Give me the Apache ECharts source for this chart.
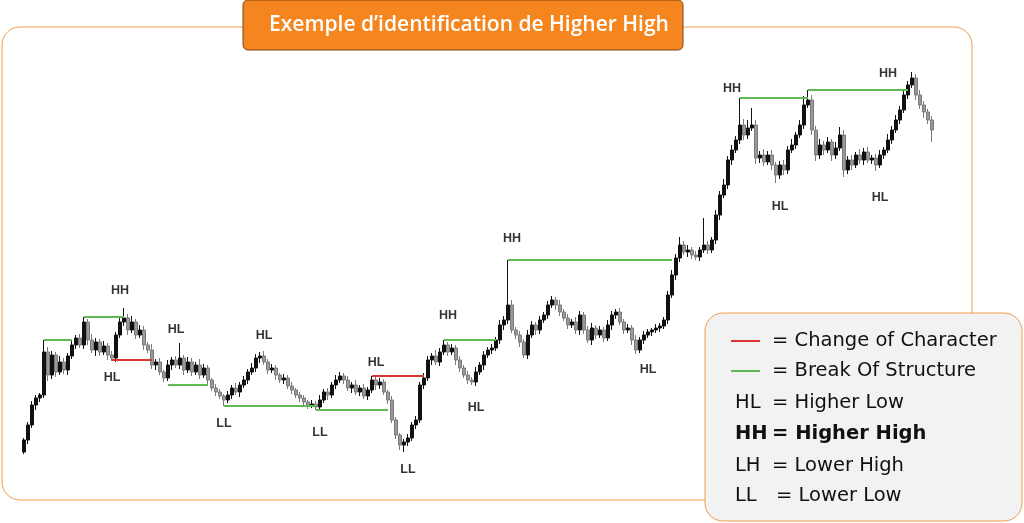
<!DOCTYPE html>
<html><head><meta charset="utf-8">
<script src="https://cdn.jsdelivr.net/npm/echarts@6/dist/echarts.min.js"></script>
<style>html,body{margin:0;padding:0;background:#fff}#c{width:1024px;height:523px}</style>
</head><body><div id="c"></div>
<script>
// ---- data (price units, arbitrary) ----
const startOpen = 48;
const closes = [
 60,75,95,102,105,148,125,145,128,138,
 130,144,155,162,155,178,160,150,158,148,
 154,145,142,165,178,182,170,178,165,170,
 155,150,135,138,128,122,135,140,135,142,
 130,138,128,135,125,132,120,112,108,104,
 100,105,112,108,115,120,128,132,142,144,
 138,130,132,125,120,122,114,110,105,102,
 98,95,96,93,100,108,105,115,120,124,
 120,112,115,108,112,104,110,120,115,118,
 108,100,80,65,55,58,62,75,80,115,
 122,140,144,138,148,155,148,152,140,132,
 125,120,118,128,135,145,150,152,160,175,
 180,195,170,165,158,145,165,175,170,180,
 185,195,200,195,188,182,175,178,170,185,
 170,160,172,165,170,162,175,185,188,178,
 170,172,160,150,160,165,168,170,172,174,
 180,205,225,242,255,248,250,245,243,250,
 255,250,260,285,305,315,340,350,360,375,
 365,372,375,342,345,338,345,335,325,335,
 330,350,355,365,375,395,400,370,345,355,
 350,358,345,352,365,330,340,335,345,340,
 348,340,342,335,345,350,360,370,380,390,
 405,415,422,405,395,388,380,370
];
const wickUp = [
 2,3,4,3,2,12,5,4,3,6,
 4,3,5,3,4,5,3,6,4,3,
 5,3,4,3,5,10,4,6,3,5,
 4,3,6,3,4,2,5,3,4,15,
 3,5,4,3,6,4,3,2,4,3,
 2,4,3,5,3,4,3,5,4,4,
 5,3,4,3,2,4,3,4,2,3,
 3,2,4,3,5,3,4,3,5,4,
 3,4,3,5,3,4,3,4,3,4,
 3,2,4,3,2,3,4,3,4,3,
 5,4,3,6,4,5,3,4,3,4,
 3,4,3,5,3,4,3,4,3,5,
 4,45,5,3,4,3,5,4,3,4,
 3,4,4,3,5,3,4,3,5,4,
 3,4,5,3,4,3,5,4,3,4,
 3,4,3,5,3,4,3,2,4,3,
 3,4,5,4,8,4,5,3,4,3,
 27,4,3,5,4,6,4,5,4,27,
 6,8,17,5,4,6,4,5,3,4,
 5,4,6,3,5,9,10,5,4,6,
 4,5,3,6,8,5,4,5,3,6,
 4,5,3,4,5,3,6,4,5,4,
 5,4,6,4,5,4,3,4
];
const wickDn = [
 2,4,3,5,4,3,6,4,5,3,
 4,5,3,4,3,4,5,3,6,4,
 3,5,3,4,3,4,5,3,4,3,
 5,3,4,5,3,4,3,5,3,4,
 5,3,4,3,4,3,5,3,4,3,
 6,3,4,3,5,3,4,3,4,5,
 3,4,3,5,3,4,3,4,3,4,
 3,4,3,3,4,3,5,3,4,3,
 4,3,5,3,4,3,4,3,5,4,
 3,4,3,4,5,7,4,3,4,3,
 4,3,5,3,4,3,4,3,5,4,
 3,4,3,4,3,5,3,4,3,4,
 5,4,3,4,5,3,4,3,5,4,
 3,4,3,5,4,3,4,3,4,5,
 4,3,5,4,3,4,3,5,4,3,
 4,3,5,4,3,4,3,4,3,4,
 3,4,3,5,4,3,5,4,3,4,
 3,4,3,4,5,3,4,5,3,4,
 5,4,3,6,5,4,3,5,8,4,
 5,4,3,4,3,4,3,5,6,4,
 5,3,6,4,3,7,4,5,3,4,
 5,3,4,6,3,4,3,4,3,4,
 3,4,3,5,4,6,4,12
];
// structure lines (kind: 'bos' green, 'choch' red)
const lineFrom  = [5, 15, 22, 36, 50, 73, 87, 105, 121, 179, 196];
const lineTo    = [12, 25, 32, 46, 73, 91, 100, 118, 162, 196, 221];
const linePrice = [160, 183, 140, 115, 94, 90, 124, 160, 240, 402, 410];
const lineKind  = ['bos','bos','choch','bos','bos','bos','choch','bos','bos','bos','bos'];
// pivot labels
const labelBar   = [23.75, 21.5, 38, 60, 50, 73.5, 95.5, 88, 106, 113, 122, 156, 177, 188.5, 215.5, 214];
const labelPrice = [209, 122, 170, 164, 76, 67, 30, 137, 184, 92, 261, 130, 411, 293, 426, 302];
const labelText  = ['HH','HL','HL','HL','LL','LL','LL','HL','HH','HL','HH','HL','HH','HL','HH','HL'];
// legend rows
const legendSym  = ['line-choch','line-bos','HL','HH','LH','LL'];
const legendDesc = ['= Change of Character','= Break Of Structure','= Higher Low','= Higher High','= Lower High','= Lower Low'];
const titleText = 'Exemple d\u2019identification de Higher High';

// ---- build ----
const cats = closes.map((_, i) => 'b' + i);
const candles = closes.map((c, i) => {
  const o = i === 0 ? startOpen : closes[i - 1];
  return [o, c, Math.min(o, c) - wickDn[i], Math.max(o, c) + wickUp[i]];
});
const GREEN = '#62b757', RED = '#dc3434', ORANGE = '#f39b4a';
const mlData = lineFrom.map((f, k) => {
  const col = lineKind[k] === 'bos' ? GREEN : RED;
  return [{coord: [f, linePrice[k]], lineStyle: {color: col}},
          {coord: [lineTo[k], linePrice[k]]}];
});
const lblData = labelBar.map((b, k) => ({value: [b, labelPrice[k]], name: labelText[k]}));

const FONT = '"Open Sans", "Noto Sans", sans-serif';
const LFONT = '"DejaVu Sans", sans-serif';
const graphics = [];
graphics.push({type: 'rect', x: 2, y: 27, z: 1,
  shape: {x: 0, y: 0, width: 970, height: 473, r: 18},
  style: {fill: 'none', stroke: ORANGE, lineWidth: 1}});
graphics.push({type: 'rect', x: 243, y: 0, z: 10,
  shape: {x: 0, y: 0, width: 440, height: 50, r: 5},
  style: {fill: '#f5861f', stroke: '#7a4512', lineWidth: 1}});
graphics.push({type: 'text', x: 469, y: 25, z: 11,
  style: {text: titleText, fill: '#fff', font: '600 21px ' + FONT, align: 'center', verticalAlign: 'middle'}});
graphics.push({type: 'rect', x: 705, y: 313, z: 10,
  shape: {x: 0, y: 0, width: 317, height: 208, r: 18},
  style: {fill: '#f2f2f2', stroke: ORANGE, lineWidth: 1}});
const rowY = [341, 371, 403, 434, 466, 496];
legendSym.forEach((s, k) => {
  const y = rowY[k];
  const bold = s === 'HH';
  if (s.startsWith('line')) {
    graphics.push({type: 'line', z: 11, shape: {x1: 731, y1: y, x2: 760, y2: y},
      style: {stroke: s === 'line-choch' ? RED : GREEN, lineWidth: 2}});
  } else {
    graphics.push({type: 'text', z: 11, x: 735, y: y,
      style: {text: s, fill: '#111', font: (bold ? '700 ' : '400 ') + '19.5px ' + LFONT, verticalAlign: 'middle'}});
  }
  graphics.push({type: 'text', z: 11, x: s === 'LL' ? 776 : 772, y: y,
    style: {text: legendDesc[k], fill: '#111', font: (bold ? '700 ' : '400 ') + '19.5px ' + LFONT, verticalAlign: 'middle'}});
});

const chart = echarts.init(document.getElementById('c'), null, {renderer: 'canvas'});
chart.setOption({
  animation: false,
  backgroundColor: '#fff',
  grid: {left: 22, right: 90, top: 20, bottom: 23},
  xAxis: {type: 'category', data: cats, boundaryGap: true, show: false},
  yAxis: {type: 'value', min: 0, max: 480, show: false},
  series: [
    {type: 'candlestick', data: candles, barWidth: 2.6, z: 3,
     itemStyle: {color: '#111', color0: '#9a9a9a', borderColor: '#111', borderColor0: '#7a7a7a', borderWidth: 1},
     markLine: {silent: true, symbol: ['none', 'none'], label: {show: false}, animation: false,
       lineStyle: {width: 2, type: 'solid', opacity: 1}, data: mlData}},
    {type: 'scatter', data: lblData, symbolSize: 1, itemStyle: {color: 'rgba(0,0,0,0)'}, z: 4, silent: true,
     label: {show: true, position: 'inside', formatter: '{b}', color: '#000', fontWeight: 'bold', fontSize: 12.5, fontFamily: '"Liberation Sans", Arial, sans-serif'}}
  ],
  graphic: graphics
});
</script></body></html>
